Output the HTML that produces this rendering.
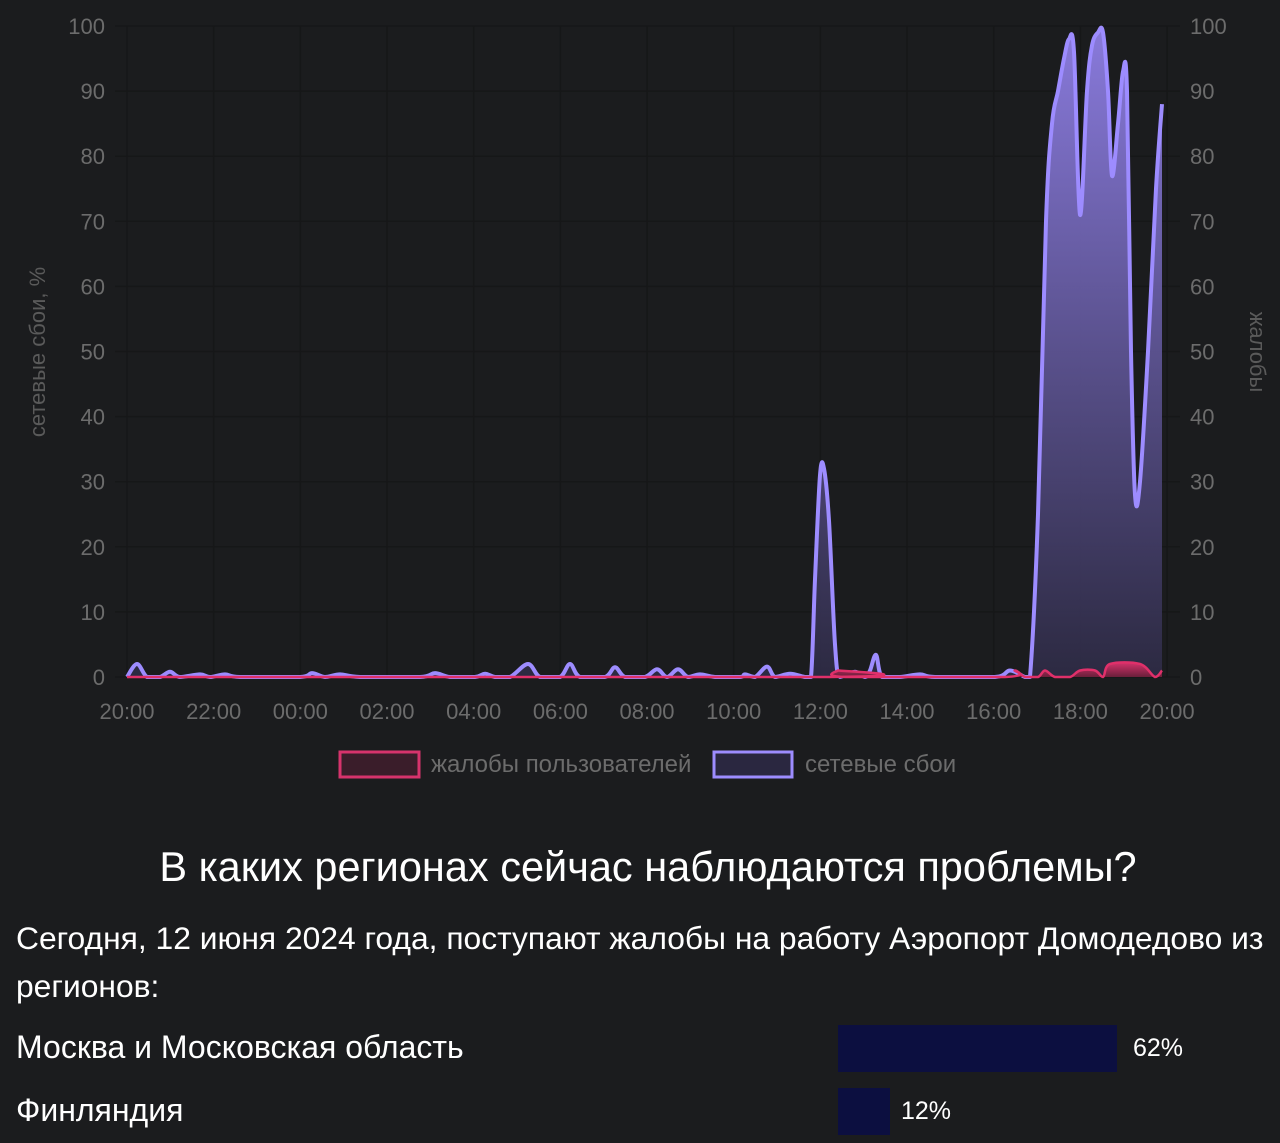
<!DOCTYPE html>
<html><head><meta charset="utf-8"><style>
body{margin:0;width:1280px;height:1143px;background:#1b1c1e;font-family:"Liberation Sans",sans-serif;overflow:hidden;position:relative;color:#fff}
.t{position:absolute;white-space:nowrap}
</style></head><body>
<svg width="1280" height="800" style="position:absolute;left:0;top:0" font-family="Liberation Sans, sans-serif">
<defs>
<linearGradient id="g" x1="0" y1="0" x2="0" y2="1"><stop offset="0" stop-color="#8f7fe6" stop-opacity="0.95"/><stop offset="1" stop-color="#2e2b45" stop-opacity="0.9"/></linearGradient>
<linearGradient id="r" x1="0" y1="0" x2="0" y2="1"><stop offset="0" stop-color="#d6336c"/><stop offset="1" stop-color="#6a1f3a"/></linearGradient>
</defs>
<g id="grid" stroke="#161718" stroke-width="1.5"></g>
<g id="lab" fill="#6c6c6c" font-size="22"></g>
<text transform="translate(45,352) rotate(-90)" fill="#5a5a5a" font-size="22" text-anchor="middle">сетевые сбои, %</text>
<text transform="translate(1250,352) rotate(90)" fill="#5a5a5a" font-size="22" text-anchor="middle">жалобы</text>
<path id="pf" fill="url(#g)"/>
<path id="pl" fill="none" stroke="#9d8cff" stroke-width="4" stroke-linejoin="round"/>
<path id="rf" fill="url(#r)"/>
<path id="rl" fill="none" stroke="#e0306a" stroke-width="2.5"/>
<rect x="340" y="752" width="79" height="25" fill="#3a1d2a" stroke="#d6336c" stroke-width="3"/>
<text x="431" y="772" fill="#6c6c6c" font-size="24">жалобы пользователей</text>
<rect x="714" y="752" width="78" height="25" fill="#2a2740" stroke="#9d8cff" stroke-width="3"/>
<text x="805" y="772" fill="#6c6c6c" font-size="24">сетевые сбои</text>
</svg>
<div class="t" style="left:0;width:1296px;text-align:center;top:843px;font-size:41.5px">В каких регионах сейчас наблюдаются проблемы?</div>
<div class="t" style="left:16px;top:914px;font-size:31.8px;line-height:48px;white-space:normal;width:1262px">Сегодня, 12 июня 2024 года, поступают жалобы на работу Аэропорт Домодедово из регионов:</div>
<div class="t" style="left:16px;top:1029px;font-size:32px">Москва и Московская область</div>
<div style="position:absolute;left:838px;top:1025px;width:279px;height:47px;background:#0c0f40"></div>
<div class="t" style="left:1133px;top:1034px;font-size:25px">62%</div>
<div class="t" style="left:16px;top:1092px;font-size:32px">Финляндия</div>
<div style="position:absolute;left:838px;top:1088px;width:52px;height:47px;background:#0c0f40"></div>
<div class="t" style="left:901px;top:1097px;font-size:25px">12%</div>
<script>
const Y=v=>677-v*6.51;
let g='',l='';
for(let i=0;i<=10;i++){const y=Y(i*10);g+=`<line x1="115" x2="1180" y1="${y}" y2="${y}"/>`;
l+=`<text x="105" y="${y+8}" text-anchor="end">${i*10}</text><text x="1190" y="${y+8}">${i*10}</text>`;}
const hrs=['20:00','22:00','00:00','02:00','04:00','06:00','08:00','10:00','12:00','14:00','16:00','18:00','20:00'];
hrs.forEach((h,i)=>{const x=127+i*86.67;g+=`<line x1="${x}" x2="${x}" y1="26" y2="677"/>`;l+=`<text x="${x}" y="719" text-anchor="middle">${h}</text>`;});
document.getElementById('grid').innerHTML=g;document.getElementById('lab').innerHTML=l;
const P=[[127,0],[137,2],[147,0],[160,0],[170,.8],[180,0],[200,.4],[210,0],[225,.4],[240,0],[300,0],[312,.6],[325,0],[340,.4],[360,0],[420,0],[435,.6],[450,0],[475,0],[485,.5],[495,0],[510,0],[528,2],[540,0],[560,0],[570,2],[580,0],[605,0],[615,1.5],[625,0],[645,0],[657,1.2],[667,0],[678,1.2],[688,0],[700,.4],[715,0],[740,0],[745,.4],[755,0],[767,1.6],[775,0],[790,.5],[805,0],[811,0],[815,15],[820,31],[824,32],[829,24],[835,5],[840,0],[855,.8],[865,0],[870,1],[876,3.4],[882,0],[900,0],[920,.4],[935,0],[995,0],[1010,1],[1025,0],[1030,0],[1038,25],[1046,70],[1052,85],[1058,90],[1064,95],[1069,98],[1074,96],[1080,71],[1087,90],[1092,97],[1098,99],[1103,99],[1108,90],[1112,77],[1118,85],[1123,93],[1127,90],[1131,50],[1135,28],[1140,30],[1148,50],[1156,75],[1162,88]];
const R=[[127,0],[830,0],[838,1],[845,0],[1005,0],[1015,1],[1025,0],[1038,0],[1045,1],[1055,0],[1070,0],[1080,1],[1095,1],[1103,0],[1110,2],[1140,2],[1155,0],[1162,1]];
function path(pts){const q=pts.map(p=>[p[0],Y(p[1])]);let d=`M${q[0][0]},${q[0][1]}`;
for(let i=0;i<q.length-1;i++){const p0=q[Math.max(i-1,0)],p1=q[i],p2=q[i+1],p3=q[Math.min(i+2,q.length-1)];
const c1=[p1[0]+(p2[0]-p0[0])/6,p1[1]+(p2[1]-p0[1])/6],c2=[p2[0]-(p3[0]-p1[0])/6,p2[1]-(p3[1]-p1[1])/6];
c1[1]=Math.min(c1[1],677);c2[1]=Math.min(c2[1],677);
d+=`C${c1[0]},${c1[1]} ${c2[0]},${c2[1]} ${p2[0]},${p2[1]}`;}return d;}
const dp=path(P),dr=path(R);
document.getElementById('pl').setAttribute('d',dp);
document.getElementById('pf').setAttribute('d',dp+'L1162,677L127,677Z');
document.getElementById('rl').setAttribute('d',dr);
document.getElementById('rf').setAttribute('d',dr+'L1162,677L127,677Z');
</script>
</body></html>
